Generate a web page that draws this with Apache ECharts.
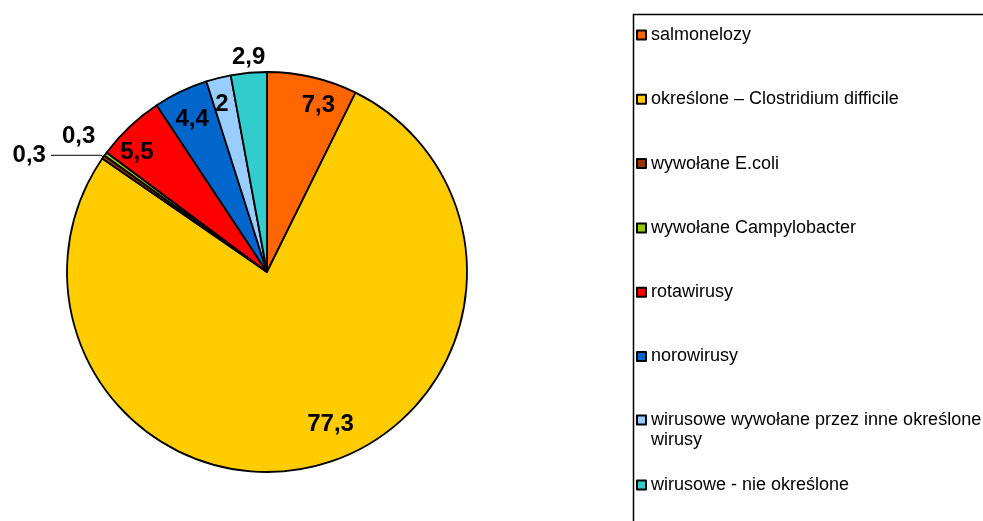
<!DOCTYPE html>
<html>
<head>
<meta charset="utf-8">
<script src="https://cdn.jsdelivr.net/npm/echarts@6/dist/echarts.min.js"></script>
<style>
  html, body { margin: 0; padding: 0; background: #fff; }
  #chart { width: 983px; height: 521px; }
</style>
</head>
<body>
<div id="chart"></div>
<script>
// dane
var categories = ['salmonelozy', 'określone – Clostridium difficile', 'wywołane E.coli',
  'wywołane Campylobacter', 'rotawirusy', 'norowirusy',
  'wirusowe wywołane przez inne określone wirusy', 'wirusowe - nie określone'];
var values = [7.3, 77.3, 0.3, 0.3, 5.5, 4.4, 2, 2.9];
var colors = ['#FF6600', '#FFCC00', '#993300', '#99CC00', '#FF0000', '#0066CC', '#99CCFF', '#33CCCC'];

// przesunięcia etykiet (jak w Excelu)
var labelShift = [[13, -2], [21, -11], null, [-52, -36], [-14, 3], [-2, 0], [-4, -4], [-3, -46]];

var font = '"Liberation Sans", Arial, sans-serif';
var fmt = function (p) { return String(p.value).replace('.', ','); };

var chart = echarts.init(document.getElementById('chart'));

// wycinki
var pieData = categories.map(function (name, i) {
  var item = { name: name, value: values[i], itemStyle: { color: colors[i] } };
  if (i === 2) {
    item.label = { show: true, position: 'outside' };
    item.labelLine = { show: true, length: 3, length2: 50 };
  }
  return item;
});

// etykiety wewnątrz (pierścień przezroczysty)
var ringData = categories.map(function (name, i) {
  var item = { name: name, value: values[i] };
  if (labelShift[i]) {
    item.label = { show: true, offset: labelShift[i] };
  } else {
    item.label = { show: false };
  }
  return item;
});

var legendText = { fontFamily: font, fontSize: 18, color: '#000', lineHeight: 20 };
var legendBase = {
  orient: 'vertical',
  left: 636,
  padding: 0,
  itemWidth: 9,
  itemHeight: 9,
  itemGap: 44.3,
  icon: 'rect',
  selectedMode: false,
  textStyle: legendText
};

var option = {
  animation: false,
  backgroundColor: '#fff',
  graphic: [{
    type: 'rect',
    left: 631, top: 12,
    shape: { width: 400, height: 600 },
    style: { fill: 'none', stroke: '#000', lineWidth: 1.5 },
    z: 0
  }],
  legend: [
    Object.assign({}, legendBase, { top: 25, data: categories.slice(0, 6) }),
    Object.assign({}, legendBase, {
      top: 390,
      data: categories.slice(6, 7),
      formatter: function () {
        return '{e| }\n{t|wirusowe wywołane przez inne określone}\n{t|wirusy}';
      },
      textStyle: Object.assign({}, legendText, {
        rich: { e: { lineHeight: 20, fontSize: 18 }, t: { lineHeight: 20, fontSize: 18, fontFamily: font, color: '#000' } }
      })
    }),
    Object.assign({}, legendBase, { top: 475, data: categories.slice(7) })
  ],
  series: [{
    type: 'pie',
    center: [267, 272],
    radius: [0, 200],
    startAngle: 90,
    clockwise: true,
    avoidLabelOverlap: false,
    itemStyle: { borderColor: '#000', borderWidth: 1.8 },
    label: { show: false, formatter: fmt, fontFamily: font, fontSize: 24, fontWeight: 'bold', color: '#000' },
    labelLine: { show: false, lineStyle: { color: '#000', width: 1 } },
    emphasis: { disabled: true },
    data: pieData
  }, {
    type: 'pie',
    center: [267, 272],
    radius: [132, 200],
    startAngle: 90,
    clockwise: true,
    silent: true,
    avoidLabelOverlap: false,
    itemStyle: { color: 'rgba(0,0,0,0)', borderWidth: 0 },
    label: { show: true, position: 'inside', formatter: fmt, fontFamily: font, fontSize: 24, fontWeight: 'bold', color: '#000' },
    labelLine: { show: false },
    emphasis: { disabled: true },
    data: ringData
  }]
};

chart.setOption(option);
</script>
</body>
</html>
